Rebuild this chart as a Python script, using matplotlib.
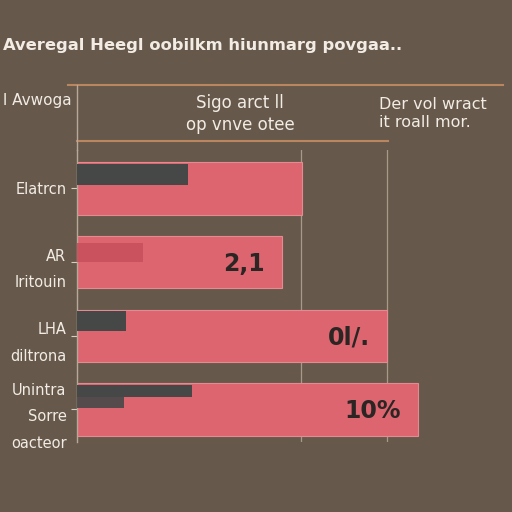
import matplotlib
matplotlib.use("Agg")
import matplotlib.pyplot as plt
from matplotlib.lines import Line2D

# ---- data ----
categories = ["Elatrcn", "AR\nIritouin", "LHA\ndiltrona", "Unintra\nSorre\noacteor"]
total_values = [52.8, 48.1, 72.8, 80.0]
dark_values = [26.0, 0.0, 11.5, 27.0]
second_values = [0.0, 15.5, 0.0, 11.0]
second_colors = ["#464848", "#c9505c", "#464848", "#464848"]
value_labels = ["", "2,1", "0l/.", "10%"]
grid_values = [52.6, 72.8]
title = "Averegal Heegl oobilkm hiunmarg povgaa.."
col_headers = ["l Avwoga", "Sigo arct ll\nop vnve otee", "Der vol wract\nit roall mor."]

BG = "#66594b"
PINK = "#dc6570"
DARK = "#464848"
TXT = "#f2ece4"
LINE = "#b9865f"

fig = plt.figure(figsize=(5.12, 5.12), dpi=100)
fig.patch.set_facecolor(BG)
ax = fig.add_axes([0.150, 0.137, 0.832, 0.570])
ax.set_facecolor(BG)

y = list(range(len(categories)))
h = 0.71
ax.barh(y, total_values, height=h, color=PINK, edgecolor="#e58a90", linewidth=0.8, zorder=2)
# dark overlay aligned to the top of each bar
dark_h = [0.29, 0.0, 0.27, 0.17]
for yi, v, dh in zip(y, dark_values, dark_h):
    if v > 0:
        ax.barh(yi - h / 2 + dh / 2 + 0.02, v, height=dh, color=DARK, zorder=3)
sec_h = [0.0, 0.27, 0.0, 0.14]
sec_off = [0.0, 0.09, 0.0, 0.19]
for yi, v, sh, so, c in zip(y, second_values, sec_h, sec_off, second_colors):
    if v > 0:
        ax.barh(yi - h / 2 + so + sh / 2, v, height=sh, color=c, zorder=3, alpha=0.9)

for yi, v, lab in zip(y, total_values, value_labels):
    if lab:
        ax.text(v - 4, yi + 0.02, lab, ha="right", va="center", fontsize=17,
                fontweight="bold", color="#2b2624", zorder=4)

for g in grid_values:
    ax.axvline(g, color="#a8998a", linewidth=0.9, zorder=1)

ax.set_xlim(0, 100)
ax.set_ylim(3.44, -0.52)
ax.set_yticks(y)
ax.set_yticklabels(categories, color=TXT, fontsize=10.5, linespacing=1.95)
ax.tick_params(axis="y", colors="#d8cfc4", length=4, labelcolor=TXT)
ax.set_xticks([])
for s in ["top", "right", "bottom"]:
    ax.spines[s].set_visible(False)
ax.spines["left"].set_color("#b8a898")
ax.spines["left"].set_linewidth(1.0)

# header region
fig.text(0.005, 0.912, title, color=TXT, fontsize=11.8, fontweight="bold", ha="left", va="center")
fig.add_artist(Line2D([0.133, 0.983], [0.834, 0.834], color=LINE, linewidth=1.5))
fig.add_artist(Line2D([0.150, 0.758], [0.725, 0.725], color=LINE, linewidth=1.5))
fig.add_artist(Line2D([0.150, 0.150], [0.834, 0.707], color="#b8a898", linewidth=1.0))
fig.text(0.005, 0.803, col_headers[0], color=TXT, fontsize=11, ha="left", va="center")
fig.text(0.469, 0.778, col_headers[1], color=TXT, fontsize=12, ha="center", va="center", linespacing=1.3)
fig.text(0.74, 0.778, col_headers[2], color=TXT, fontsize=11.5, ha="left", va="center", linespacing=1.3)

fig.savefig("out.png", dpi=100, facecolor=BG)
